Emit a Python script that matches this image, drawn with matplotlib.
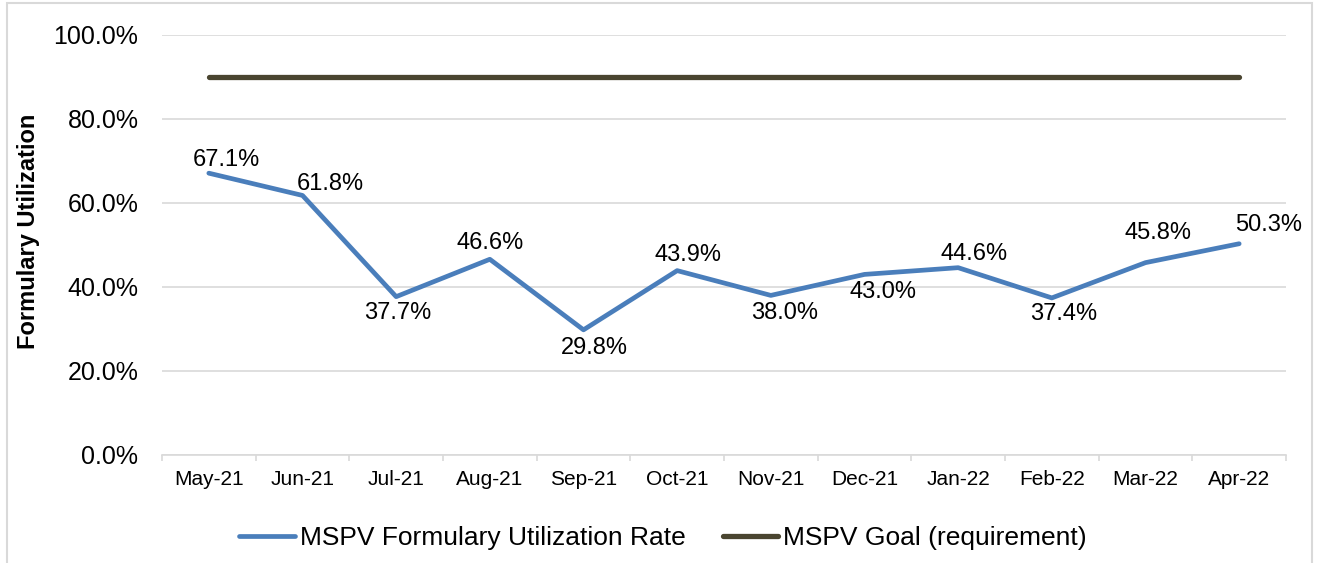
import matplotlib.pyplot as plt
from matplotlib.patches import Rectangle

plt.rcParams['font.family'] = ['Liberation Sans', 'DejaVu Sans']

months = ['May-21', 'Jun-21', 'Jul-21', 'Aug-21', 'Sep-21', 'Oct-21',
          'Nov-21', 'Dec-21', 'Jan-22', 'Feb-22', 'Mar-22', 'Apr-22']
utilization = [67.1, 61.8, 37.7, 46.6, 29.8, 43.9, 38.0, 43.0, 44.6, 37.4, 45.8, 50.3]
goal = [90.0] * len(months)

# label offsets from each point in pixels (dx, dy), as placed in the original
label_offsets = [(18, 13), (28, 11), (2, -16), (0, 16), (11, -18), (11, 16),
                 (14, -18), (19, -18), (16, 14), (12, -16), (13, 30), (29, 19)]

W, H = 1320, 563
fig = plt.figure(figsize=(W / 100, H / 100), dpi=100)
ax = fig.add_axes([162 / W, (H - 455) / H, (1286 - 162) / W, 420 / H])

x = list(range(len(months)))
ax.plot(x, utilization, color='#4A7EBB', lw=3.4, solid_capstyle='round',
        solid_joinstyle='round', label='MSPV Formulary Utilization Rate', zorder=3)
ax.plot(x, goal, color='#4A4530', lw=3.8, solid_capstyle='round',
        label='MSPV Goal (requirement)', zorder=3)

for xi, v, (dx, dy) in zip(x, utilization, label_offsets):
    ax.annotate(f'{v:.1f}%', (xi, v), xytext=(dx, dy), textcoords='offset pixels',
                ha='center', va='center', fontsize=17)

ax.set_xlim(-0.5, len(months) - 0.5)
ax.set_ylim(0, 100)
yt = [0, 20, 40, 60, 80, 100]
ax.set_yticks(yt)
ax.set_yticklabels([f'{t:.1f}%' for t in yt], fontsize=18)
ax.set_xticks(x)
ax.set_xticklabels(months, fontsize=15)
ax.set_xticks([i - 0.5 for i in range(len(months) + 1)], minor=True)
ax.tick_params(axis='x', which='major', length=0, pad=11)
ax.tick_params(axis='x', which='minor', length=4, color='#D9D9D9', width=1.2)
ax.tick_params(axis='y', length=0, pad=17)
ax.grid(axis='y', color='#D9D9D9', lw=1.2)
ax.set_axisbelow(True)
for side in ['top', 'right', 'left']:
    ax.spines[side].set_visible(False)
ax.spines['bottom'].set_color('#D9D9D9')
ax.spines['bottom'].set_linewidth(1.2)

ax.set_ylabel('Formulary Utilization', fontsize=17, fontweight='bold')
ax.yaxis.set_label_coords(-(162 - 40) / (1286 - 162), (455 - 231.5) / 420)

fig.legend(loc='center', bbox_to_anchor=(663 / W, (H - 538) / H), ncol=2, frameon=False,
           fontsize=19, handlelength=2.1, columnspacing=1.4, handletextpad=0.2,
           borderpad=0, borderaxespad=0)

fig.add_artist(Rectangle((7 / W, -0.05), (1312 - 7) / W, 1.05 - 3 / H,
                         transform=fig.transFigure, fill=False,
                         edgecolor='#D9D9D9', lw=1.5))

fig.savefig('out.png', dpi=100)
